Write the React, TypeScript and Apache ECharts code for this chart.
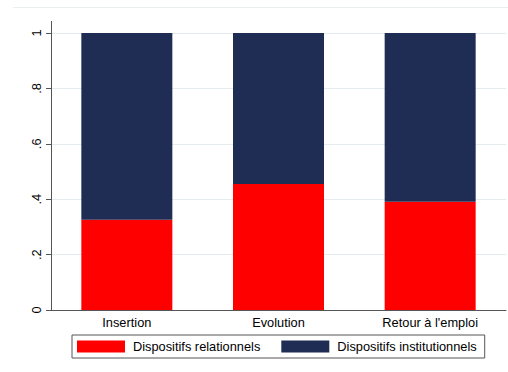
import React, { useEffect, useRef } from "react";
import * as echarts from "echarts";

const categories = ["Insertion", "Evolution", "Retour à l'emploi"];
const seriesNames = ["Dispositifs relationnels", "Dispositifs institutionnels"];
const relationnels = [0.326, 0.455, 0.391];
const institutionnels = [0.674, 0.545, 0.609];
const yTicks = [0, 0.2, 0.4, 0.6, 0.8, 1];

const FONT = "Liberation Sans, Arial, sans-serif";
const FS = 12.8;

export default function App() {
  const ref = useRef<HTMLDivElement>(null);
  useEffect(() => {
    if (!ref.current) return;
    const chart = echarts.init(ref.current, undefined, { renderer: "svg" });
    const gridLeft = 51;
    const gridTop = 33;
    chart.setOption({
      animation: false,
      backgroundColor: "#ffffff",
      textStyle: { fontFamily: FONT },
      grid: { left: gridLeft, right: 2, top: gridTop, bottom: 62, containLabel: false },
      legend: {
        left: 72,
        top: 335,
        padding: [5, 8, 5, 5],
        itemWidth: 48,
        itemHeight: 12,
        itemGap: 21,
        icon: "rect",
        borderColor: "#555555",
        borderWidth: 1,
        borderRadius: 0,
        data: seriesNames,
        textStyle: { fontSize: FS, color: "#000", fontFamily: FONT, padding: [0, 0, 0, 3] },
      },
      xAxis: {
        type: "category",
        data: categories,
        axisLine: { lineStyle: { color: "#555555", width: 1 } },
        axisTick: { show: false },
        axisLabel: { fontSize: FS, color: "#000", margin: 6, fontFamily: FONT },
        splitLine: { show: false },
      },
      yAxis: {
        type: "value",
        min: 0,
        max: 1,
        interval: 0.2,
        axisLine: { show: true, lineStyle: { color: "#555555", width: 1 } },
        axisTick: { show: true, length: 5, lineStyle: { color: "#555555" } },
        axisLabel: {
          fontSize: FS,
          color: "#000",
          rotate: 90,
          margin: 8,
          fontFamily: FONT,
          formatter: (v: number) => {
            const t = yTicks.find((k) => Math.abs(k - v) < 1e-6);
            if (t === undefined) return "";
            if (t === 0) return "0";
            if (t === 1) return "1";
            return String(t).replace(/^0/, "");
          },
        },
        splitLine: { show: true, lineStyle: { color: "#e4ecef", width: 1 } },
      },
      graphic: [
        {
          type: "line",
          shape: { x1: 13, y1: 7.5, x2: 508, y2: 7.5 },
          style: { stroke: "#eaeff1", lineWidth: 1 },
        },
        {
          type: "line",
          shape: { x1: gridLeft + 0.5, y1: 21, x2: gridLeft + 0.5, y2: gridTop },
          style: { stroke: "#555555", lineWidth: 1 },
        },
      ],
      series: [
        {
          name: seriesNames[0],
          type: "bar",
          stack: "total",
          barWidth: "60%",
          data: relationnels,
          itemStyle: { color: "#ff0000" },
        },
        {
          name: seriesNames[1],
          type: "bar",
          stack: "total",
          barWidth: "60%",
          data: institutionnels,
          itemStyle: { color: "#1f2d54" },
        },
      ],
    });
    return () => chart.dispose();
  }, []);
  return (
    <div
      ref={ref}
      style={{ position: "fixed", left: 0, top: 0, width: 508, height: 372 }}
    />
  );
}
